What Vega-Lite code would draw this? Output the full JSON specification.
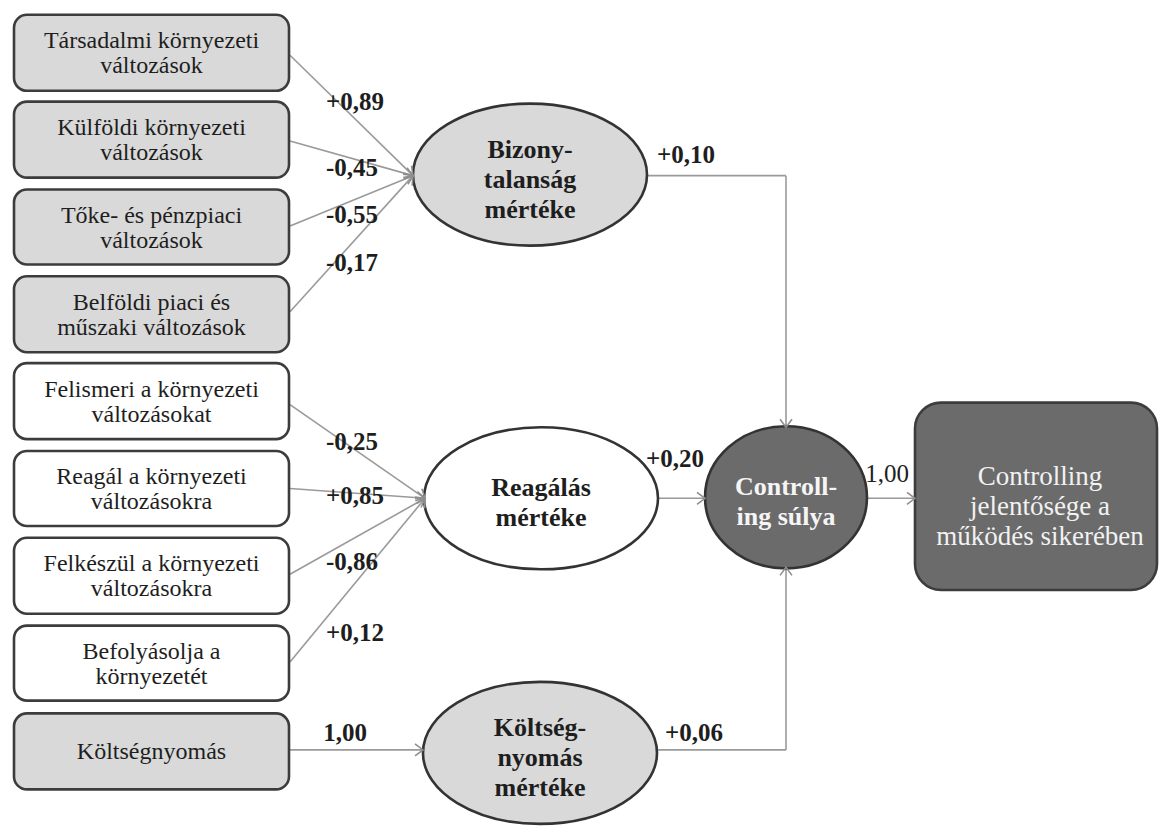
{
  "$schema": "https://vega.github.io/schema/vega-lite/v6.json",
  "width": 1160,
  "height": 829,
  "padding": 0,
  "autosize": {"type": "fit", "contains": "padding"},
  "background": "#ffffff",
  "config": {"view": {"stroke": null}},
  "datasets": {
    "boxes": [
      {"label": "Társadalmi környezeti\nváltozások", "kind": "gray", "big": false, "x1": 14, "x2": 289, "y1": 15, "y2": 92},
      {"label": "Külföldi környezeti\nváltozások", "kind": "gray", "big": false, "x1": 14, "x2": 289, "y1": 103, "y2": 180},
      {"label": "Tőke- és pénzpiaci\nváltozások", "kind": "gray", "big": false, "x1": 14, "x2": 289, "y1": 192, "y2": 268},
      {"label": "Belföldi piaci és\nműszaki változások", "kind": "gray", "big": false, "x1": 14, "x2": 289, "y1": 280, "y2": 357},
      {"label": "Felismeri a környezeti\nváltozásokat", "kind": "white", "big": false, "x1": 14, "x2": 289, "y1": 368, "y2": 445},
      {"label": "Reagál a környezeti\nváltozásokra", "kind": "white", "big": false, "x1": 14, "x2": 289, "y1": 457, "y2": 533},
      {"label": "Felkészül a környezeti\nváltozásokra", "kind": "white", "big": false, "x1": 14, "x2": 289, "y1": 545, "y2": 622},
      {"label": "Befolyásolja a\nkörnyezetét", "kind": "white", "big": false, "x1": 14, "x2": 289, "y1": 634, "y2": 710},
      {"label": "Költségnyomás", "kind": "gray", "big": false, "x1": 14, "x2": 289, "y1": 723, "y2": 800},
      {"label": "Controlling\njelentősége a\nműködés sikerében", "kind": "dark", "big": true, "x1": 915, "x2": 1157, "y1": 408, "y2": 598}
    ],
    "latent": [
      {"label": "Bizony-\ntalanság\nmértéke", "kind": "gray", "form": "wide", "x": 530, "y": 177},
      {"label": "Reagálás\nmértéke", "kind": "white", "form": "wide", "x": 541, "y": 505},
      {"label": "Költség-\nnyomás\nmértéke", "kind": "gray", "form": "wide", "x": 540, "y": 763},
      {"label": "Controll-\ning súlya", "kind": "dark", "form": "round", "x": 786, "y": 504}
    ],
    "edges": [
      {"x1": 290, "y1": 56, "x2": 413, "y2": 178, "head": true},
      {"x1": 290, "y1": 143, "x2": 413, "y2": 178, "head": true},
      {"x1": 290, "y1": 229, "x2": 413, "y2": 178, "head": true},
      {"x1": 290, "y1": 316, "x2": 413, "y2": 178, "head": true},
      {"x1": 290, "y1": 410, "x2": 425, "y2": 505, "head": true},
      {"x1": 290, "y1": 495, "x2": 425, "y2": 505, "head": true},
      {"x1": 290, "y1": 582, "x2": 425, "y2": 505, "head": true},
      {"x1": 290, "y1": 671, "x2": 425, "y2": 505, "head": true},
      {"x1": 289, "y1": 760, "x2": 423, "y2": 760, "head": true},
      {"x1": 648, "y1": 178, "x2": 786, "y2": 178, "head": false},
      {"x1": 786, "y1": 178, "x2": 786, "y2": 433, "head": true},
      {"x1": 657, "y1": 505, "x2": 705, "y2": 505, "head": true},
      {"x1": 658, "y1": 760, "x2": 786, "y2": 760, "head": false},
      {"x1": 786, "y1": 760, "x2": 786, "y2": 575, "head": true},
      {"x1": 868, "y1": 505, "x2": 915, "y2": 505, "head": true}
    ],
    "labels": [
      {"text": "+0,89", "x": 355, "y": 103, "bold": true},
      {"text": "-0,45", "x": 352, "y": 170, "bold": true},
      {"text": "-0,55", "x": 352, "y": 218, "bold": true},
      {"text": "-0,17", "x": 352, "y": 267, "bold": true},
      {"text": "+0,10", "x": 686, "y": 157, "bold": true},
      {"text": "-0,25", "x": 352, "y": 448, "bold": true},
      {"text": "+0,85", "x": 355, "y": 503, "bold": true},
      {"text": "-0,86", "x": 352, "y": 570, "bold": true},
      {"text": "+0,12", "x": 355, "y": 642, "bold": true},
      {"text": "+0,20", "x": 675, "y": 465, "bold": true},
      {"text": "1,00", "x": 345, "y": 743, "bold": true},
      {"text": "+0,06", "x": 694, "y": 743, "bold": true},
      {"text": "1,00", "x": 887, "y": 480, "bold": false}
    ]
  },
  "layer": [
    {
      "data": {"name": "edges"},
      "mark": {"type": "rule", "stroke": "#9a9a9a", "strokeWidth": 1.6},
      "encoding": {
        "x": {"field": "x1", "type": "quantitative", "scale": {"domain": [0, 1160], "nice": false, "zero": false}, "axis": null},
        "x2": {"field": "x2"},
        "y": {"field": "y1", "type": "quantitative", "scale": {"domain": [0, 829], "nice": false, "zero": false, "reverse": true}, "axis": null},
        "y2": {"field": "y2"}
      }
    },
    {
      "data": {"name": "boxes"},
      "transform": [{"filter": "!datum.big"}],
      "mark": {"type": "rect", "cornerRadius": 13, "stroke": "#3c3c3c", "strokeWidth": 2.6},
      "encoding": {
        "x": {"field": "x1", "type": "quantitative", "scale": {"domain": [0, 1160], "nice": false, "zero": false}, "axis": null},
        "x2": {"field": "x2"},
        "y": {"field": "y1", "type": "quantitative", "scale": {"domain": [0, 829], "nice": false, "zero": false, "reverse": true}, "axis": null},
        "y2": {"field": "y2"},
        "fill": {"field": "kind", "type": "nominal", "scale": {"domain": ["gray", "white", "dark"], "range": ["#d9d9d9", "#ffffff", "#6b6b6b"]}, "legend": null}
      }
    },
    {
      "data": {"name": "boxes"},
      "transform": [{"filter": "datum.big"}],
      "mark": {"type": "rect", "cornerRadius": 26, "stroke": "#3c3c3c", "strokeWidth": 2.6},
      "encoding": {
        "x": {"field": "x1", "type": "quantitative", "scale": {"domain": [0, 1160], "nice": false, "zero": false}, "axis": null},
        "x2": {"field": "x2"},
        "y": {"field": "y1", "type": "quantitative", "scale": {"domain": [0, 829], "nice": false, "zero": false, "reverse": true}, "axis": null},
        "y2": {"field": "y2"},
        "fill": {"field": "kind", "type": "nominal", "scale": {"domain": ["gray", "white", "dark"], "range": ["#d9d9d9", "#ffffff", "#6b6b6b"]}, "legend": null}
      }
    },
    {
      "data": {"name": "latent"},
      "mark": {"type": "point", "filled": true, "opacity": 1, "size": 54756, "stroke": "#333333", "strokeWidth": 2.6},
      "encoding": {
        "x": {"field": "x", "type": "quantitative", "scale": {"domain": [0, 1160], "nice": false, "zero": false}, "axis": null},
        "y": {"field": "y", "type": "quantitative", "scale": {"domain": [0, 829], "nice": false, "zero": false, "reverse": true}, "axis": null},
        "fill": {"field": "kind", "type": "nominal", "scale": {"domain": ["gray", "white", "dark"], "range": ["#d9d9d9", "#ffffff", "#6b6b6b"]}, "legend": null},
        "shape": {"field": "form", "type": "nominal", "scale": {"domain": ["wide", "round"], "range": ["M 1 0 C 1 0.3353 0.5523 0.607 0 0.607 C -0.5523 0.607 -1 0.3353 -1 0 C -1 -0.3353 -0.5523 -0.607 0 -0.607 C 0.5523 -0.607 1 -0.3353 1 0 Z", "M 0.692 0 C 0.692 0.3353 0.3822 0.607 0 0.607 C -0.3822 0.607 -0.692 0.3353 -0.692 0 C -0.692 -0.3353 -0.3822 -0.607 0 -0.607 C 0.3822 -0.607 0.692 -0.3353 0.692 0 Z"]}, "legend": null}
      }
    },
    {
      "data": {"name": "edges"},
      "transform": [
        {"filter": "datum.head"},
        {"calculate": "atan2(datum.y2 - datum.y1, datum.x2 - datum.x1) * 180 / PI", "as": "dir"}
      ],
      "mark": {"type": "point", "filled": false, "opacity": 1, "size": 256, "shape": "M -1 -0.75 L 0 0 L -1 0.75", "stroke": "#8f8f8f", "strokeWidth": 1.6},
      "encoding": {
        "x": {"field": "x2", "type": "quantitative", "scale": {"domain": [0, 1160], "nice": false, "zero": false}, "axis": null},
        "y": {"field": "y2", "type": "quantitative", "scale": {"domain": [0, 829], "nice": false, "zero": false, "reverse": true}, "axis": null},
        "angle": {"field": "dir", "type": "quantitative", "scale": null}
      }
    },
    {
      "data": {"name": "boxes"},
      "transform": [
        {"filter": "!datum.big"},
        {"calculate": "(datum.x1 + datum.x2) / 2", "as": "cx"},
        {"calculate": "(datum.y1 + datum.y2) / 2 + 1 - (split(datum.label, '\\n').length - 1) * 12.5", "as": "cy"}
      ],
      "mark": {"type": "text", "font": "Liberation Serif", "fontSize": 24, "lineBreak": "\n", "lineHeight": 25, "align": "center", "baseline": "middle", "color": "#1e1e1e"},
      "encoding": {
        "x": {"field": "cx", "type": "quantitative", "scale": {"domain": [0, 1160], "nice": false, "zero": false}, "axis": null},
        "y": {"field": "cy", "type": "quantitative", "scale": {"domain": [0, 829], "nice": false, "zero": false, "reverse": true}, "axis": null},
        "text": {"field": "label"}
      }
    },
    {
      "data": {"name": "boxes"},
      "transform": [
        {"filter": "datum.big"},
        {"calculate": "(datum.x1 + datum.x2) / 2 + 4", "as": "cx"},
        {"calculate": "(datum.y1 + datum.y2) / 2 + 10 - (split(datum.label, '\\n').length - 1) * 15", "as": "cy"}
      ],
      "mark": {"type": "text", "font": "Liberation Serif", "fontSize": 27, "lineBreak": "\n", "lineHeight": 30, "align": "center", "baseline": "middle", "color": "#f2f2f2"},
      "encoding": {
        "x": {"field": "cx", "type": "quantitative", "scale": {"domain": [0, 1160], "nice": false, "zero": false}, "axis": null},
        "y": {"field": "cy", "type": "quantitative", "scale": {"domain": [0, 829], "nice": false, "zero": false, "reverse": true}, "axis": null},
        "text": {"field": "label"}
      }
    },
    {
      "data": {"name": "latent"},
      "transform": [{"calculate": "datum.y + 5 - (split(datum.label, '\\n').length - 1) * 15", "as": "ty"}],
      "mark": {"type": "text", "font": "Liberation Serif", "fontWeight": "bold", "fontSize": 26, "lineBreak": "\n", "lineHeight": 30, "align": "center", "baseline": "middle"},
      "encoding": {
        "x": {"field": "x", "type": "quantitative", "scale": {"domain": [0, 1160], "nice": false, "zero": false}, "axis": null},
        "y": {"field": "ty", "type": "quantitative", "scale": {"domain": [0, 829], "nice": false, "zero": false, "reverse": true}, "axis": null},
        "text": {"field": "label"},
        "color": {"condition": {"test": "datum.kind === 'dark'", "value": "#f5f5f5"}, "value": "#1e1e1e"}
      }
    },
    {
      "data": {"name": "labels"},
      "transform": [{"filter": "datum.bold"}],
      "mark": {"type": "text", "font": "Liberation Serif", "fontWeight": "bold", "fontSize": 25, "align": "center", "baseline": "middle", "color": "#1e1e1e"},
      "encoding": {
        "x": {"field": "x", "type": "quantitative", "scale": {"domain": [0, 1160], "nice": false, "zero": false}, "axis": null},
        "y": {"field": "y", "type": "quantitative", "scale": {"domain": [0, 829], "nice": false, "zero": false, "reverse": true}, "axis": null},
        "text": {"field": "text"}
      }
    },
    {
      "data": {"name": "labels"},
      "transform": [{"filter": "!datum.bold"}],
      "mark": {"type": "text", "font": "Liberation Serif", "fontSize": 25, "align": "center", "baseline": "middle", "color": "#1e1e1e"},
      "encoding": {
        "x": {"field": "x", "type": "quantitative", "scale": {"domain": [0, 1160], "nice": false, "zero": false}, "axis": null},
        "y": {"field": "y", "type": "quantitative", "scale": {"domain": [0, 829], "nice": false, "zero": false, "reverse": true}, "axis": null},
        "text": {"field": "text"}
      }
    }
  ]
}
